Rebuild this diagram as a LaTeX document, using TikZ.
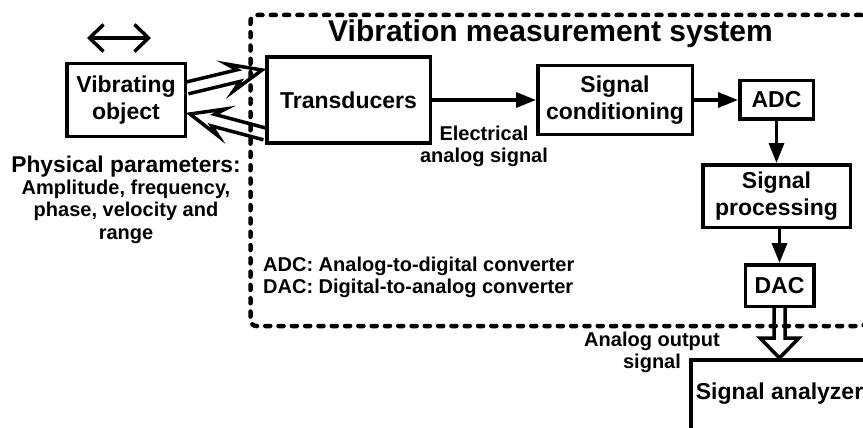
\documentclass[tikz,border=0pt]{standalone}
\usepackage{fontspec}
\setmainfont{Liberation Sans}
\usetikzlibrary{arrows.meta,positioning,calc}

\begin{document}
\begin{tikzpicture}[
    x=1pt, y=1pt,
    >={Triangle[length=20pt,width=15pt]},
    basebox/.style={
        draw,
        line width=3.5pt,
        align=center,
        inner sep=0pt,
        font=\fontsize{23}{27}\selectfont\bfseries
    },
    sysframe/.style={
        draw,
        line width=4.5pt,
        line cap=round,
        dash pattern=on 5pt off 8.3pt,
        rounded corners=6pt,
        outer sep=0pt,
        inner sep=0pt
    },
    titletext/.style={font=\fontsize{30}{36}\selectfont\bfseries, inner sep=0pt},
    labeltext/.style={font=\fontsize{20}{22.3}\selectfont\bfseries, align=center, inner sep=0pt},
    arrow/.style={->, line width=3.5pt},
    movearrow/.style={
        {Straight Barb[length=14pt,width=27pt]}-{Straight Barb[length=14pt,width=27pt]},
        line width=3.5pt
    },
    hollowarrow/.style n args={4}{% half shaft, half head, head length, barb setback
        line width=3.5pt,
        to path={
            let \p1=($(\tikztotarget)-(\tikztostart)$), \n1={atan2(\y1,\x1)} in
            ($(\tikztostart)+({\n1+90}:#1)$)
            -- ($(\tikztotarget)+({\n1+180}:#3)+({\n1+90}:#1)$)
            -- ($(\tikztotarget)+({\n1+180}:{#3+#4})+({\n1+90}:#2)$)
            -- (\tikztotarget)
            -- ($(\tikztotarget)+({\n1+180}:{#3+#4})+({\n1-90}:#2)$)
            -- ($(\tikztotarget)+({\n1+180}:#3)+({\n1-90}:#1)$)
            -- ($(\tikztostart)+({\n1-90}:#1)$)
        }
    }
]
\useasboundingbox (0,0) rectangle (863,-428);
\clip (0,0) rectangle (863,-428);

% --- FRAME ---
\node[sysframe, anchor=north west, minimum width=616.5pt, minimum height=311pt] (sys) at (250.5,-15) {};
\node[titletext] (title) at (550.5,-34) {Vibration measurement system};

% --- NODES ---
\node[basebox, minimum width=118.5pt, minimum height=72.5pt] (vib) at (126,-100) {Vibrating\\object};
\node[basebox, right=78pt of vib, minimum width=163.5pt, minimum height=85.5pt] (trans) {Transducers};
\node[basebox, right=104pt of trans, minimum width=154.5pt, minimum height=68.5pt] (cond) {Signal\\conditioning};
\node[basebox, right=44pt of cond, minimum width=73.5pt, minimum height=38.5pt] (adc) {ADC};
\node[basebox, below=42pt of adc, minimum width=147.5pt, minimum height=62.5pt] (proc) {Signal\\processing};
\node[basebox, below=34pt of proc, xshift=3pt, minimum width=68.5pt, minimum height=41.5pt] (dac) {DAC};
\node[basebox, below=50pt of dac, minimum width=177pt, text height=16pt, text depth=40pt, inner ysep=24pt] (ana) {Signal analyzer};

% texts
\node[labeltext, below=17.5pt of vib] (params)
{{\fontsize{22.8}{27}\selectfont Physical parameters:}\\Amplitude, frequency,\\phase, velocity and\\range};
\node[labeltext, align=left, anchor=north west] (legend) at (263,-256.5)
{ADC: Analog-to-digital converter\\DAC: Digital-to-analog converter};
\node[labeltext] (outlbl) at (652,-352.5) {Analog output\\signal};

% free ends
\coordinate (moveL) at ([xshift=-39pt,yshift=24pt]vib.north);
\coordinate (moveR) at ([xshift=25pt,yshift=24pt]vib.north);
\coordinate (vibout) at ([yshift=12pt]vib.east);
\coordinate (transin) at ([xshift=-3pt,yshift=30pt]trans.west);
\coordinate (transout) at ([yshift=-34pt]trans.west);
\coordinate (vibin) at ([xshift=3pt,yshift=-14pt]vib.east);
\coordinate (anain) at (dac.south |- ana.north);

% --- CONNECTIONS ---
\draw[movearrow] (moveL) -- (moveR);
\draw[hollowarrow={6pt}{14pt}{24pt}{9pt}] (vibout) to (transin);
\draw[hollowarrow={6pt}{14pt}{24pt}{9pt}] (transout) to (vibin);

\draw[arrow] (trans) -- node[labeltext, below=24pt] (elec) {Electrical\\analog signal} (cond);
\draw[arrow] (cond) -- (adc);
\draw[arrow] (adc) -- (proc);
\draw[arrow] (proc.south -| dac.north) -- (dac.north);
\draw[hollowarrow={5.5pt}{19.5pt}{20pt}{0pt}] (dac.south) to (anain);

\end{tikzpicture}
\end{document}
